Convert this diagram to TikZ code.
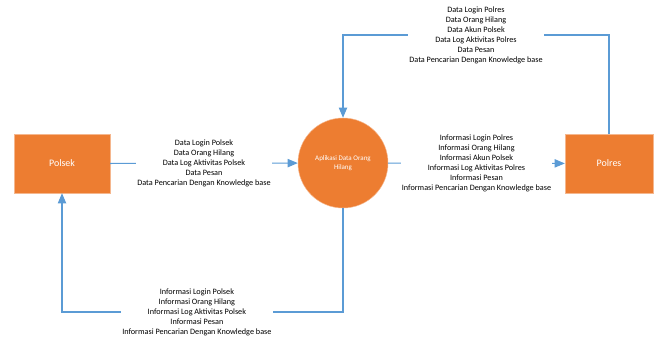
\documentclass[tikz,border=0pt]{standalone}
\usepackage{fontspec}
\setmainfont{Carlito}
\usetikzlibrary{arrows}
\definecolor{boxorange}{HTML}{ED7D31}
\definecolor{flowblue}{HTML}{5B9BD5}
\tikzset{entity/.style={draw=boxorange!55,fill=boxorange,text=white,minimum width=2.64cm,minimum height=1.77cm,font=\fontsize{8.5}{9}\selectfont}}
\tikzset{process/.style={draw=boxorange!55,fill=boxorange,circle,text=white,minimum size=2.7cm,align=center,font=\fontsize{6}{7.5}\selectfont}}
\tikzset{flow/.style={draw=flowblue,line width=1pt,-triangle 45}}
\tikzset{lbl/.style={fill=white,align=center,inner sep=1pt,font=\fontsize{7}{8.5}\selectfont}}

\begin{document}
\begin{tikzpicture}[x=0.03cm,y=-0.03cm]
\useasboundingbox (0,0) rectangle (656,338);

\node[entity,minimum width=2.88cm](polsek) at (62,163.5){Polsek};
\node[process](app) at (343,163){Aplikasi Data Orang\\Hilang};
\node[entity](polres) at (609,163.5){Polres};
\coordinate (topy) at (0,35);
\coordinate (boty) at (0,312);

\draw[flow] (polsek) -- node[lbl]{Data Login Polsek\\Data Orang Hilang\\Data Log Aktivitas Polsek\\Data Pesan\\Data Pencarian Dengan Knowledge base} (app);
\draw[flow] (app) -- node[lbl]{Informasi Login Polres\\Informasi Orang Hilang\\Informasi Akun Polsek\\Informasi Log Aktivitas Polres\\Informasi Pesan\\Informasi Pencarian Dengan Knowledge base} (polres);
\draw[flow] (polres.north) -- (polres.north |- topy) -| node[lbl,pos=0.25]{Data Login Polres\\Data Orang Hilang\\Data Akun Polsek\\Data Log Aktivitas Polres\\Data Pesan\\Data Pencarian Dengan Knowledge base} (app.north);
\draw[flow] (app.south) -- (app.south |- boty) -| node[lbl,pos=0.26]{Informasi Login Polsek\\Informasi Orang Hilang\\Informasi Log Aktivitas Polsek\\Informasi Pesan\\Informasi Pencarian Dengan Knowledge base} (polsek.south);

\end{tikzpicture}
\end{document}
